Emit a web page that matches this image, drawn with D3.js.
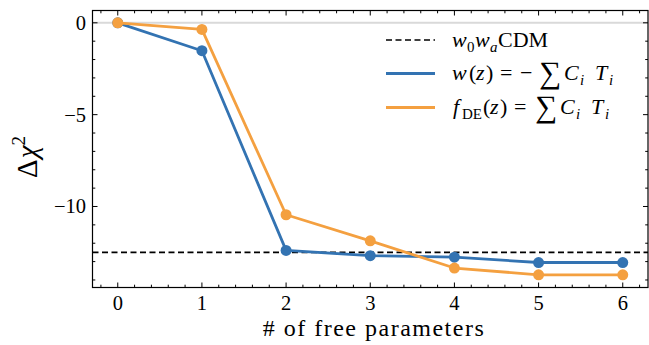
<!DOCTYPE html>
<html>
<head>
<meta charset="utf-8">
<script src="https://cdn.jsdelivr.net/npm/d3@7"></script>
<style>
  html, body { margin: 0; padding: 0; background: #fff; }
  svg { display: block; }
  text { font-family: "Liberation Serif", "DejaVu Serif", serif; fill: #000; }
</style>
</head>
<body>
<svg id="chart" width="649" height="345"></svg>
<script>
// Number of free parameters in each reconstruction
const nParams = [0, 1, 2, 3, 4, 5, 6];
// Δχ² relative to ΛCDM for the two basis expansions
const wzDeltaChi2 = [0, -1.52, -12.39, -12.68, -12.76, -13.05, -13.05];
const fdeDeltaChi2 = [0, -0.36, -10.45, -11.87, -13.35, -13.72, -13.72];
// Reference level for the w0waCDM fit
const w0waLevel = -12.5;
const xTicks = [0, 1, 2, 3, 4, 5, 6];
const yTicks = [0, -5, -10];

const svg = d3.select("#chart");
const L = 92.5, R = 648, T = 10.5, B = 287.5;

const x = d3.scaleLinear().domain([-0.3, 6.3]).range([L, R]);
const y = d3.scaleLinear().domain([-14.41, 0.67]).range([B, T]);

const blue = "#3373b2", orange = "#f4a040";

const plot = svg.append("g");

// zero reference line
plot.append("line")
  .attr("x1", L).attr("x2", R)
  .attr("y1", y(0)).attr("y2", y(0))
  .attr("stroke", "#d9d9d9").attr("stroke-width", 2);

// w0waCDM level
plot.append("line")
  .attr("x1", L).attr("x2", R)
  .attr("y1", y(w0waLevel)).attr("y2", y(w0waLevel))
  .attr("stroke", "#000").attr("stroke-width", 1.6)
  .attr("stroke-dasharray", "6,3.5");

const line = d3.line().x((d, i) => x(nParams[i])).y(d => y(d));

function series(vals, color) {
  plot.append("path").datum(vals)
    .attr("d", line).attr("fill", "none")
    .attr("stroke", color).attr("stroke-width", 2.8)
    .attr("stroke-linejoin", "round");
  plot.selectAll(null).data(vals).enter().append("circle")
    .attr("cx", (d, i) => x(nParams[i])).attr("cy", d => y(d))
    .attr("r", 5.5).attr("fill", color);
}
series(wzDeltaChi2, blue);
series(fdeDeltaChi2, orange);

// frame
svg.append("rect")
  .attr("x", L).attr("y", T).attr("width", R - L).attr("height", B - T)
  .attr("fill", "none").attr("stroke", "#000").attr("stroke-width", 1.2);

// inward ticks on all four sides
const ticksG = svg.append("g").attr("stroke", "#000").attr("stroke-width", 1);
const xMinor = d3.range(-0.2, 6.3, 0.2).filter(v => Math.abs(v - Math.round(v)) > 1e-6);
const yMinor = d3.range(-14, 1, 1).filter(v => v % 5 !== 0);

xTicks.forEach(v => {
  ticksG.append("line").attr("x1", x(v)).attr("x2", x(v)).attr("y1", B).attr("y2", B - 5);
  ticksG.append("line").attr("x1", x(v)).attr("x2", x(v)).attr("y1", T).attr("y2", T + 5);
});
xMinor.forEach(v => {
  ticksG.append("line").attr("x1", x(v)).attr("x2", x(v)).attr("y1", B).attr("y2", B - 2.8);
  ticksG.append("line").attr("x1", x(v)).attr("x2", x(v)).attr("y1", T).attr("y2", T + 2.8);
});
yTicks.forEach(v => {
  ticksG.append("line").attr("x1", L).attr("x2", L + 5).attr("y1", y(v)).attr("y2", y(v));
  ticksG.append("line").attr("x1", R).attr("x2", R - 5).attr("y1", y(v)).attr("y2", y(v));
});
yMinor.forEach(v => {
  ticksG.append("line").attr("x1", L).attr("x2", L + 2.8).attr("y1", y(v)).attr("y2", y(v));
  ticksG.append("line").attr("x1", R).attr("x2", R - 2.8).attr("y1", y(v)).attr("y2", y(v));
});

// tick labels
svg.selectAll(".xl").data(xTicks).enter().append("text")
  .attr("x", d => x(d)).attr("y", 310)
  .attr("text-anchor", "middle").attr("font-size", 20.5)
  .text(d => d);
svg.selectAll(".yl").data(yTicks).enter().append("text")
  .attr("x", 86).attr("y", d => y(d) + 7)
  .attr("text-anchor", "end").attr("font-size", 20.5)
  .text(d => d < 0 ? "\u2212" + Math.abs(d) : d);

// axis labels
svg.append("text")
  .attr("x", 374).attr("y", 336)
  .attr("text-anchor", "middle").attr("font-size", 24)
  .attr("letter-spacing", 1.5)
  .text("# of free parameters");

const yl = svg.append("text")
  .attr("transform", "translate(37,157) rotate(-90)")
  .attr("text-anchor", "middle").attr("font-size", 29);
yl.append("tspan").text("\u0394");
yl.append("tspan").attr("font-style", "italic").attr("dx", 1).text("\u03C7");
yl.append("tspan").attr("font-size", 19).attr("dy", -12).text("2");

// legend
const lg = svg.append("g");
const lx1 = 386, lx2 = 435;
const rows = [40, 73.5, 107.5];
lg.append("line").attr("x1", lx1).attr("x2", lx2).attr("y1", rows[0]).attr("y2", rows[0])
  .attr("stroke", "#000").attr("stroke-width", 1.6).attr("stroke-dasharray", "6,3.5");
lg.append("line").attr("x1", lx1).attr("x2", lx2).attr("y1", rows[1]).attr("y2", rows[1])
  .attr("stroke", blue).attr("stroke-width", 2.8);
lg.append("line").attr("x1", lx1).attr("x2", lx2).attr("y1", rows[2]).attr("y2", rows[2])
  .attr("stroke", orange).attr("stroke-width", 2.8);

// each legend label is a run of pieces placed along the row
function legendText(yc, parts) {
  const base = yc + 6.5;
  const g = lg.append("g");
  parts.forEach(p => {
    const s = g.append("text")
      .attr("x", p.x)
      .attr("y", base + (p.sub ? 5 : 0) + (p.dy || 0))
      .attr("font-size", p.sub ? 15 : (p.size || 22))
      .text(p.t);
    if (p.i) s.attr("font-style", "italic");
  });
}
legendText(rows[0], [
  {t: "w", i: true, x: 452}, {t: "0", sub: true, x: 467},
  {t: "w", i: true, x: 475}, {t: "a", i: true, sub: true, x: 490},
  {t: "CDM", x: 498}
]);
legendText(rows[1], [
  {t: "w", i: true, x: 452}, {t: "(", x: 469}, {t: "z", i: true, x: 476}, {t: ")", x: 486},
  {t: "=", x: 500}, {t: "\u2212", x: 520},
  {t: "\u2211", x: 539, size: 31, dy: 2.5},
  {t: "C", i: true, x: 564}, {t: "i", i: true, sub: true, x: 580},
  {t: "T", i: true, x: 595}, {t: "i", i: true, sub: true, x: 609}
]);
legendText(rows[2], [
  {t: "f", i: true, x: 453}, {t: "DE", sub: true, x: 462}, {t: "(", x: 483}, {t: "z", i: true, x: 490}, {t: ")", x: 500},
  {t: "=", x: 514},
  {t: "\u2211", x: 535, size: 31, dy: 2.5},
  {t: "C", i: true, x: 560}, {t: "i", i: true, sub: true, x: 576},
  {t: "T", i: true, x: 591}, {t: "i", i: true, sub: true, x: 605}
]);
</script>
</body>
</html>
